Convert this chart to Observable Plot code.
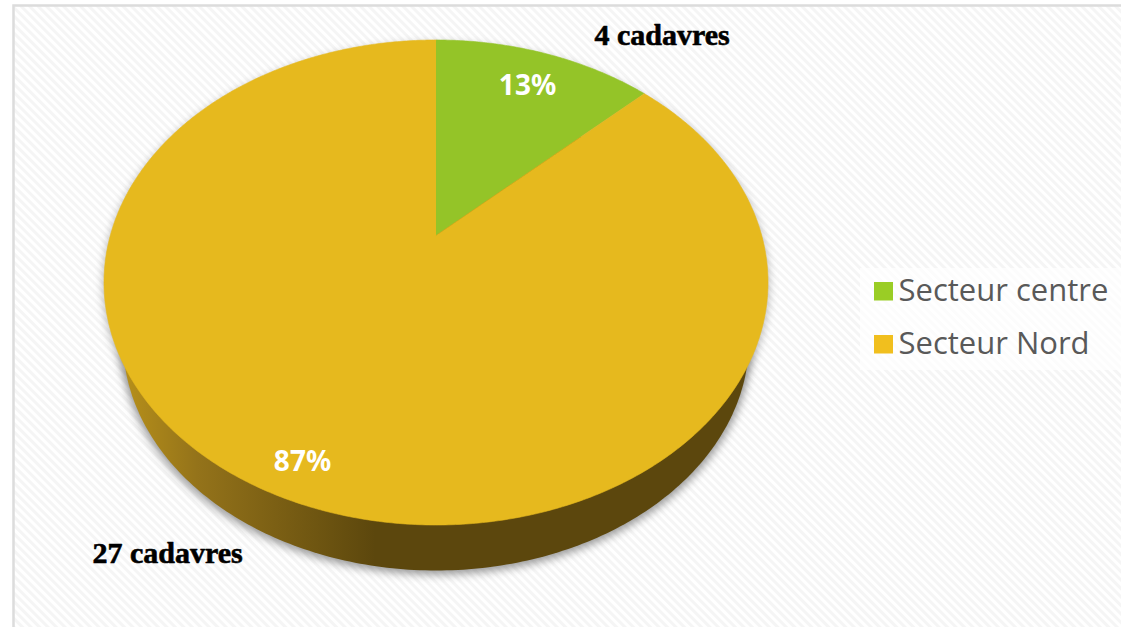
<!DOCTYPE html>
<html>
<head>
<meta charset="utf-8">
<script src="https://cdn.jsdelivr.net/npm/d3@7"></script>
<script src="https://cdn.jsdelivr.net/npm/@observablehq/plot@0.6"></script>
<style>html,body{margin:0;padding:0;background:#fff;overflow:hidden}</style>
</head>
<body>
<div id="chart"></div>
<script>
// Data
const sectors = ["Secteur centre", "Secteur Nord"];
const counts = [4, 27];
const percentLabels = ["13%", "87%"];
const countLabels = ["4 cadavres", "27 cadavres"];
const sliceColors = ["#94c428", "#e6b91e"];
const swatchColors = ["#9acd25", "#f1bf1e"];

// Layout of the picture (pixels)
const W = 1121, H = 627;
const cx = 435.5, cy = 282, rx = 332, ry = 242.5;
const tilt = (cy - 235) / ry;
const X = px => (px - cx) / rx;
const Y = py => (cy - py) / ry;
const ell = (ecy, erx, ery, n = 360) => d3.range(n + 1).map(i => {
  const t = i / n * 2 * Math.PI;
  return {x: erx / rx * Math.cos(t), y: (cy - (ecy + ery * Math.sin(t))) / ry};
});

// Slices: angles from the values, then the perspective of the tilted disc
const persp = a => {
  const u = Math.sin(a), v = Math.cos(a), k = 1 + tilt * v;
  return {x: u * Math.sqrt(1 - tilt * tilt) / k, y: (v + tilt) / k};
};
const arcs = d3.pie().sort(null).startAngle(0).endAngle(2 * Math.PI)(counts);
const sliceRows = arcs.flatMap((a, i) => {
  const n = Math.ceil((a.endAngle - a.startAngle) * 120);
  const pts = d3.range(n + 1).map(j => persp(a.startAngle + (a.endAngle - a.startAngle) * j / n));
  return [{x: 0, y: tilt}, ...pts].map(p => ({...p, sector: sectors[i]}));
});

const wall = ell(340, 313, 230);
const shadow = ell(343, 315, 231);
const defs = () => {
  const ns = "http://www.w3.org/2000/svg";
  const d = document.createElementNS(ns, "defs");
  d.innerHTML = `
    <pattern id="hatch" patternUnits="userSpaceOnUse" width="6" height="6" patternTransform="rotate(45)">
      <rect width="6" height="6" fill="#ffffff"/><rect width="6" height="3" fill="#f5f5f5"/>
    </pattern>
    <linearGradient id="side" gradientUnits="userSpaceOnUse" x1="120" y1="0" x2="375" y2="0">
      <stop offset="0" stop-color="#b8911a"/>
      <stop offset="0.3" stop-color="#94731a"/>
      <stop offset="0.6" stop-color="#7c6014"/>
      <stop offset="1" stop-color="#5c470d"/>
    </linearGradient>`;
  return d;
};

const labelFont = {fontFamily: "Noto Sans", fontWeight: 700, fontSize: 28, fill: "#fff"};
const noteFont = {fontFamily: "Liberation Serif", fontWeight: 700, fontSize: 30, fill: "#000", stroke: "#000", strokeWidth: 0.6, textAnchor: "start"};
const legendFont = {fontFamily: "Open Sans", fontSize: 31, fill: "#595959", textAnchor: "start"};

const chart = Plot.plot({
  width: W, height: H,
  margin: 0,
  style: {background: "#fff", overflow: "visible"},
  x: {domain: [X(0), X(W)], range: [0, W], axis: null},
  y: {domain: [Y(H), Y(0)], range: [H, 0], axis: null},
  color: {domain: sectors, range: sliceColors},
  marks: [
    defs,
    Plot.frame({fill: "url(#hatch)", stroke: "#dcdcdc", strokeWidth: 2.5, insetLeft: 13, insetTop: 5, insetRight: -10, insetBottom: -10}),
    Plot.line(shadow, {x: "x", y: "y", fill: "#777", stroke: "none", fillOpacity: 0.75, imageFilter: "blur(4px)"}),
    Plot.line(ell(cy + 3, rx + 1, ry), {x: "x", y: "y", fill: "#777", stroke: "none", fillOpacity: 0.5, imageFilter: "blur(4px)"}),
    Plot.line(wall, {x: "x", y: "y", fill: "url(#side)", stroke: "none"}),
    Plot.line(sliceRows, {x: "x", y: "y", z: "sector", fill: "sector", stroke: "sector", strokeWidth: 0.6}),
    Plot.text([percentLabels[0]], {x: X(527), y: Y(86), text: d => d, ...labelFont}),
    Plot.text([percentLabels[1]], {x: X(302), y: Y(462), text: d => d, ...labelFont}),
    Plot.text([countLabels[0]], {x: X(594), y: Y(35), text: d => d, ...noteFont}),
    Plot.text([countLabels[1]], {x: X(92), y: Y(553), text: d => d, ...noteFont}),
    Plot.rect([0], {x1: X(860), x2: X(W), y1: Y(268), y2: Y(370), fill: "#fff", fillOpacity: 0.65}),
    Plot.rect(sectors, {x1: X(874), x2: X(893), y1: (d, i) => Y(282 + 53 * i), y2: (d, i) => Y(300.5 + 53 * i), fill: (d, i) => swatchColors[i]}),
    Plot.text(sectors, {x: X(898), y: (d, i) => Y(291 + 53 * i), text: d => d, ...legendFont})
  ]
});
document.getElementById("chart").append(chart);
</script>
</body>
</html>
